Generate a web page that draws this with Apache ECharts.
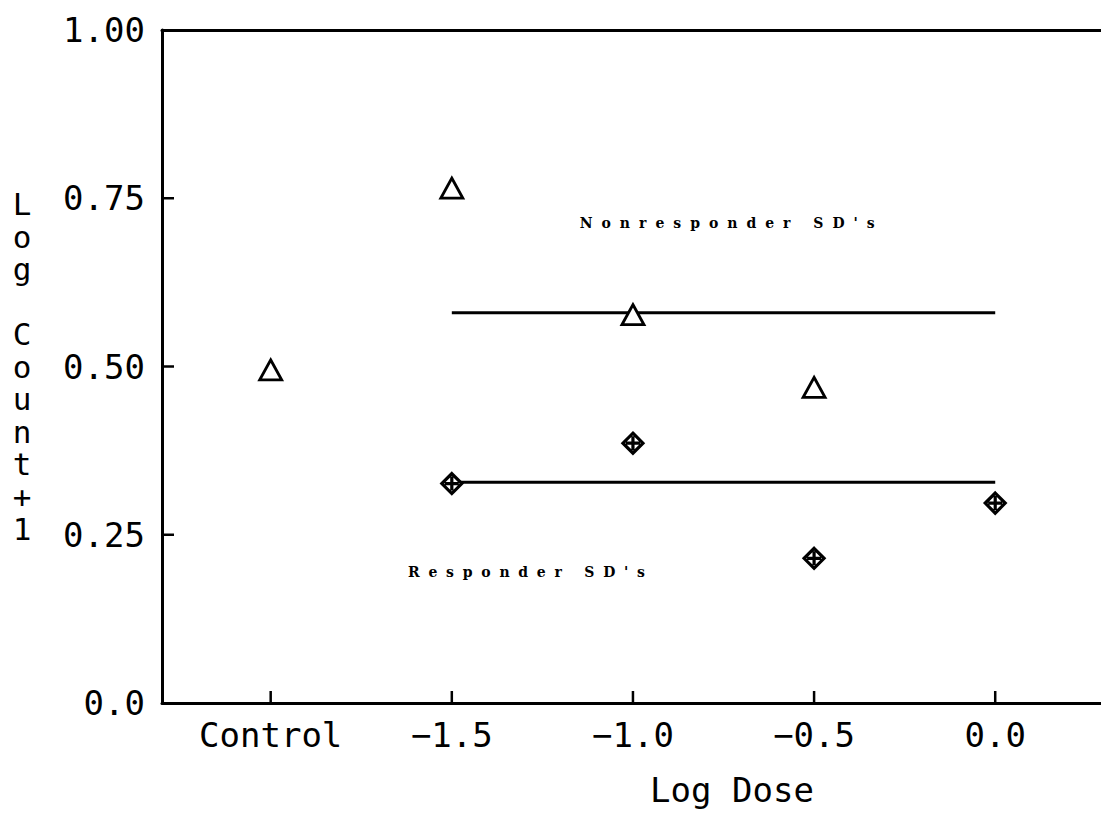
<!DOCTYPE html>
<html><head><meta charset="utf-8">
<script src="https://cdn.jsdelivr.net/npm/echarts@6/dist/echarts.min.js"></script>
<style>html,body{margin:0;padding:0;background:#fff}#c{width:1101px;height:815px}</style>
</head><body><div id="c"></div>
<script>
// ---- data ----
const xTickValues = [-2, -1.5, -1, -0.5, 0];
const xTickLabels = ['Control', '\u22121.5', '\u22121.0', '\u22120.5', '0.0'];
const yTickValues = [0, 0.25, 0.5, 0.75, 1];
const yTickLabels = ['0.0', '0.25', '0.50', '0.75', '1.00'];
const nonresponder = [[-2, 0.495], [-1.5, 0.765], [-1, 0.577], [-0.5, 0.469]];
const responder = [[-1.5, 0.326], [-1, 0.386], [-0.5, 0.215], [0, 0.297]];
const nonresponderSD = [[-1.5, 0.580], [0, 0.580]];
const responderSD = [[-1.5, 0.328], [0, 0.328]];
const annotationTexts = ["Nonresponder SD's", "Responder SD's"];
const annotationPos = [[-1.147, 0.713], [-1.621, 0.194]];
const xTitle = 'Log Dose';
const yTitle = 'Log Count+1';

// ---- chart ----
const X_MIN = -2.3, X_MAX = 0.292;
const mono = 'DejaVu Sans Mono';
const annFont = 'bold 14px "DejaVu Serif"';
const annWidths = [295, 237];
const TICK_LEN = 12;
const chart = echarts.init(document.getElementById('c'), null, {renderer: 'svg'});
const yTitleStacked = yTitle.split(' ').map(w => w.split('').join('\n')).join('\n\n');
const diamondCross = 'path://M10 0 L20 10 L10 20 L0 10 Z M10 3 L10 17 M3 10 L17 10';

// inward tick marks placed through the axis scales
function tickRenderer(dir) {
  return function (params, api) {
    const p = api.coord([api.value(0), api.value(1)]);
    const shape = dir === 'up'
      ? {x1: p[0], y1: p[1], x2: p[0], y2: p[1] - TICK_LEN}
      : {x1: p[0], y1: p[1], x2: p[0] + TICK_LEN, y2: p[1]};
    return {type: 'line', shape: shape, style: {stroke: '#000', lineWidth: 2.5}};
  };
}

chart.setOption({
  animation: false,
  backgroundColor: '#fff',
  grid: {left: 162, right: 0, top: 30, bottom: 112},
  xAxis: [{
    type: 'value', min: X_MIN, max: X_MAX, position: 'bottom',
    axisLine: {show: true, onZero: false, lineStyle: {color: '#000', width: 3}},
    axisTick: {show: false},
    axisLabel: {show: true, customValues: xTickValues, margin: 32, verticalAlign: 'middle',
      formatter: v => xTickLabels[xTickValues.indexOf(v)],
      fontFamily: mono, fontSize: 34, color: '#000'},
    splitLine: {show: false},
    name: xTitle, nameLocation: 'middle', nameGap: 87,
    nameTextStyle: {fontFamily: mono, fontSize: 34, color: '#000', verticalAlign: 'middle', padding: [0, 0, 0, 201]}
  }, {
    type: 'value', min: X_MIN, max: X_MAX, position: 'top',
    axisLine: {show: true, onZero: false, lineStyle: {color: '#000', width: 3}},
    axisTick: {show: false}, axisLabel: {show: false}, splitLine: {show: false}
  }],
  yAxis: {
    type: 'value', min: 0, max: 1, interval: 0.25,
    axisLine: {show: true, onZero: false, lineStyle: {color: '#000', width: 3}},
    axisTick: {show: false},
    axisLabel: {margin: 17, formatter: v => yTickLabels[yTickValues.indexOf(v)],
      fontFamily: mono, fontSize: 34, color: '#000'},
    splitLine: {show: false},
    name: yTitleStacked, nameLocation: 'middle', nameRotate: 0, nameGap: 140,
    nameTextStyle: {fontFamily: mono, fontSize: 31, lineHeight: 32.5, color: '#000', align: 'center', verticalAlign: 'middle'}
  },
  series: [
    {type: 'custom', silent: true, clip: false, renderItem: tickRenderer('up'),
      data: xTickValues.map(v => [v, 0]), z: 3},
    {type: 'custom', silent: true, clip: false, renderItem: tickRenderer('right'),
      data: yTickValues.slice(1, -1).map(v => [X_MIN, v]), z: 3},
    {type: 'line', data: nonresponderSD, symbol: 'none', silent: true,
      lineStyle: {color: '#000', width: 3}},
    {type: 'line', data: responderSD, symbol: 'none', silent: true,
      lineStyle: {color: '#000', width: 3}},
    {type: 'scatter', name: 'Nonresponder', data: nonresponder, symbol: 'triangle', symbolSize: [22, 20],
      itemStyle: {color: '#fff', borderColor: '#000', borderWidth: 2.8, opacity: 1}, z: 5},
    {type: 'scatter', name: 'Responder', data: responder, symbol: diamondCross, symbolSize: 20,
      itemStyle: {color: '#fff', borderColor: '#000', borderWidth: 3.2, opacity: 1}, z: 5},
    {type: 'scatter', silent: true, symbolSize: 0.1, itemStyle: {color: 'transparent', opacity: 1},
      data: annotationTexts.map((t, i) => ({name: t, value: annotationPos[i]})),
      label: {show: true, position: 'right', distance: 0, formatter: '{b}',
        fontFamily: 'DejaVu Serif', fontWeight: 'bold', fontSize: 14, color: '#000', opacity: 1}}
  ]
});

// widen letter spacing of the two annotations like the original typewriter lettering
const ctx = document.createElement('canvas').getContext('2d');
ctx.font = annFont;
document.querySelectorAll('#c svg text').forEach(el => {
  const i = annotationTexts.indexOf(el.textContent);
  if (i < 0) return;
  const t = annotationTexts[i];
  const ls = (annWidths[i] - ctx.measureText(t).width) / (t.length - 1);
  el.setAttribute('letter-spacing', ls.toFixed(2));
});
</script>
</body></html>
